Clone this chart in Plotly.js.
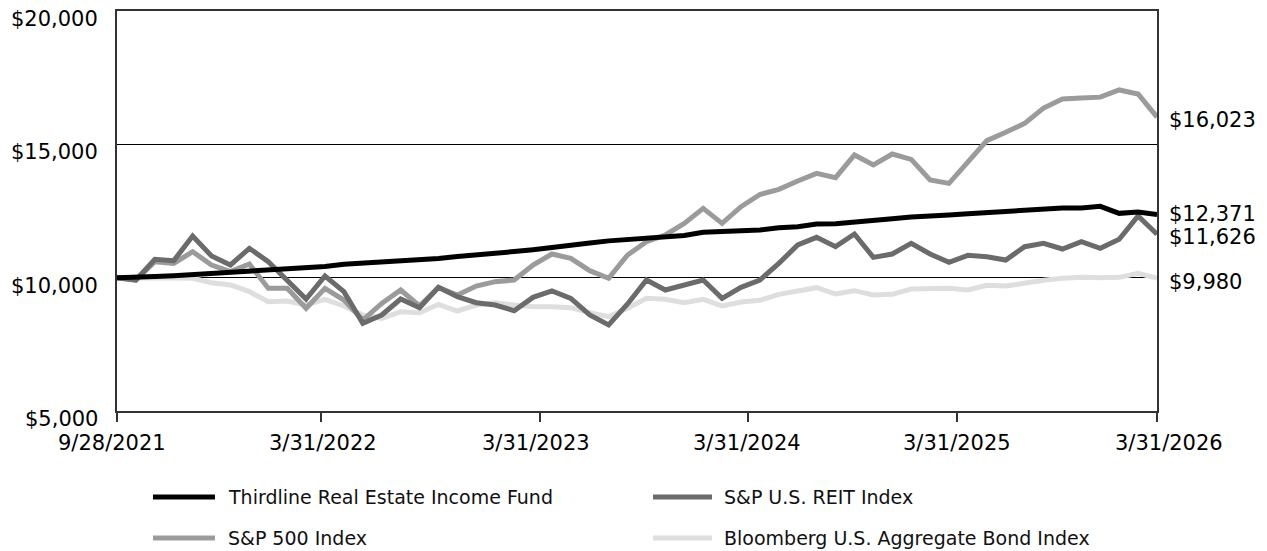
<!DOCTYPE html>
<html>
<head>
<meta charset="utf-8">
<script src="https://cdn.plot.ly/plotly-3.0.1.min.js"></script>
<style>html,body{margin:0;padding:0;background:#fff;}#chart{width:1267px;height:551px;}</style>
</head>
<body>
<div id="chart"></div>
<script>
// Series names
const seriesNames = ['Thirdline Real Estate Income Fund', 'S&P U.S. REIT Index', 'S&P 500 Index', 'Bloomberg U.S. Aggregate Bond Index'];

// X tick labels and Y tick values
const tickLabels = ['9/28/2021', '3/31/2022', '3/31/2023', '3/31/2024', '3/31/2025', '3/31/2026'];
const yTickValues = [5000, 10000, 15000, 20000];

// Values (growth of $10,000), 56 observations
const fund = [10000,10000,10040,10070,10110,10150,10190,10240,10280,10330,10380,10420,10500,10540,10570,10600,10640,10720,
  10790,10840,10900,10980,11050,11120,11220,11300,11380,11440,11500,11550,11580,11700,11710,11760,
  11790,11875,11910,12010,12025,12075,12125,12210,12275,12300,12350,12400,12450,12500,12537,12587,12612,12612,12675,12412,12462,12371];

const reit = [10000,9912,10688,10637,11562,10812,10475,11100,10600,9912,9200,10062,9475,8287,8600,9200,8875,9640,
  9287,9062,8975,8762,9262,9500,9225,8600,8225,9012,9912,9537,9725,9912,9225,9637,
  9912,10537,11225,11512,11162,11637,10762,10887,11287,10887,10575,10837,10787,10662,11162,11287,11075,11350,11100,11437,12312,11626];

const sp500 = [10000,9912,10600,10537,10975,10475,10225,10512,9600,9600,8850,9600,9162,8412,9037,9537,8937,9637,
  9350,9687,9850,9912,10475,10887,10725,10262,9975,10850,11350,11600,12037,12600,12037,12662,
  13120,13312,13625,13912,13750,14600,14225,14637,14437,13662,13537,14350,15137,15450,15787,16360,16700,16740,16770,17040,16890,16023];

const bond = [10000,9975,10000,10010,9980,9812,9725,9475,9100,9125,8975,9187,8937,8600,8475,8725,8687,9000,
  8750,8975,9062,8975,8912,8912,8875,8687,8537,8850,9225,9187,9062,9187,8937,9087,
  9150,9375,9512,9625,9387,9512,9350,9375,9575,9575,9600,9537,9712,9687,9800,9900,9975,10012,10000,10012,10162,9980];

const colors = ['#000000', '#6b6b6b', '#9b9b9b', '#dedede'];
const allSeries = [fund, reit, sp500, bond];

const FONT = 'DejaVu Sans, Verdana, sans-serif';
const idx = arr => arr.map((_, i) => i);
const fmt = v => '$' + v.toLocaleString('en-US');

// draw order: bond, S&P 500, REIT, fund (fund on top)
const traces = [3, 2, 1, 0].map(i => ({
  type: 'scatter', mode: 'lines',
  x: idx(allSeries[i]), y: allSeries[i],
  name: seriesNames[i],
  line: {color: colors[i], width: 5, shape: 'linear'},
  hoverinfo: 'skip', showlegend: false
}));

const lastIdx = fund.length - 1;
const xTickPos = [0, 10.79, 22.37, 33.37, 44.42, lastIdx];
const xLabelShift = [-5, 2, -4, -1, 0, 12];

const annotations = [];

// end-of-line value labels
const endYShift = [0, -3, -3, -4];
allSeries.forEach((s, i) => annotations.push({
  x: lastIdx, y: s[lastIdx], xref: 'x', yref: 'y',
  text: fmt(s[lastIdx]),
  showarrow: false, xanchor: 'left', yanchor: 'middle',
  xshift: 10, yshift: endYShift[i],
  font: {family: FONT, size: 21, color: '#000'}
}));

// y-axis labels (sit just below their gridlines, as in the reference)
yTickValues.forEach(v => annotations.push({
  x: 0, xref: 'paper', y: v, yref: 'y', text: fmt(v),
  showarrow: false, xanchor: 'right', yanchor: 'middle',
  xshift: -17, yshift: -8,
  font: {family: FONT, size: 21, color: '#000'}
}));

// x-axis labels
tickLabels.forEach((t, i) => annotations.push({
  x: xTickPos[i], xref: 'x', y: 0, yref: 'paper', text: t,
  showarrow: false, xanchor: 'center', yanchor: 'middle',
  xshift: xLabelShift[i], yshift: -32,
  font: {family: FONT, size: 21, color: '#000'}
}));

// custom legend (2 columns x 2 rows)
const legendPos = [
  {lx0: 0.0346, lx1: 0.0942, tx: 0.1048, y: -0.215},
  {lx0: 0.5154, lx1: 0.5721, tx: 0.5817, y: -0.215},
  {lx0: 0.0346, lx1: 0.0942, tx: 0.1048, y: -0.3175},
  {lx0: 0.5154, lx1: 0.5721, tx: 0.5817, y: -0.3175}
];
const shapes = [];
legendPos.forEach((p, i) => {
  shapes.push({type: 'line', xref: 'paper', yref: 'paper', x0: p.lx0, x1: p.lx1, y0: p.y, y1: p.y,
    line: {color: colors[i], width: 5}});
  annotations.push({xref: 'paper', yref: 'paper', x: p.tx, y: p.y, text: seriesNames[i],
    showarrow: false, xanchor: 'left', yanchor: 'middle',
    font: {family: FONT, size: 19, color: '#111'}});
});

const layout = {
  width: 1267, height: 551,
  margin: {l: 117, r: 110, t: 11, b: 140},
  paper_bgcolor: '#fff', plot_bgcolor: '#fff',
  showlegend: false,
  xaxis: {
    type: 'linear', range: [0, lastIdx],
    tickmode: 'array', tickvals: xTickPos, ticktext: tickLabels,
    showticklabels: false,
    showgrid: false, zeroline: false,
    showline: true, linecolor: '#333', linewidth: 2, mirror: true,
    ticks: 'outside', ticklen: 9, tickwidth: 1.5, tickcolor: '#333'
  },
  yaxis: {
    range: [5000, 20000], tickmode: 'array', tickvals: yTickValues,
    showticklabels: false,
    showgrid: true, gridcolor: '#000', gridwidth: 1, zeroline: false,
    showline: true, linecolor: '#333', linewidth: 2, mirror: true,
    ticks: ''
  },
  annotations: annotations,
  shapes: shapes
};

Plotly.newPlot('chart', traces, layout, {staticPlot: true, displayModeBar: false});
</script>
</body>
</html>
